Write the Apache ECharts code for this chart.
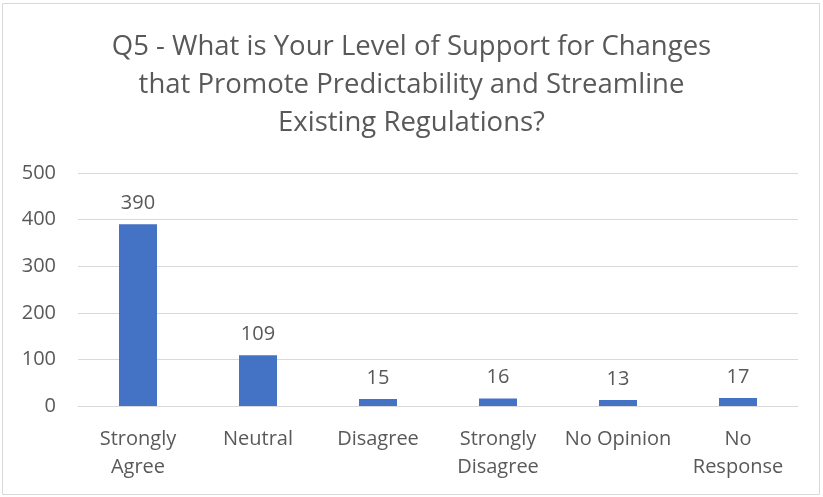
<!DOCTYPE html>
<html>
<head>
<meta charset="utf-8">
<script src="https://cdn.jsdelivr.net/npm/echarts@6/dist/echarts.min.js"></script>
<style>
html,body{margin:0;padding:0;background:#fff;}
#chart{width:823px;height:497px;}
</style>
</head>
<body>
<div id="chart"></div>
<script>
const titleText = "Q5 - What is Your Level of Support for Changes\nthat Promote Predictability and Streamline\nExisting Regulations?";
const categories = ["Strongly\nAgree", "Neutral", "Disagree", "Strongly\nDisagree", "No Opinion", "No\nResponse"];
const responses = [390, 109, 15, 16, 13, 17];
const yTicks = { min: 0, max: 500, interval: 100 };

const FONT = "'Open Sans', sans-serif";
const TXT = "#595959";
const chart = echarts.init(document.getElementById('chart'), null, { renderer: 'canvas' });
chart.setOption({
  backgroundColor: '#ffffff',
  animation: false,
  title: {
    text: titleText,
    left: 'center',
    top: 23.5,
    textStyle: { fontFamily: FONT, fontSize: 27.5, fontWeight: 'normal', color: TXT, lineHeight: 38 }
  },
  graphic: [{
    type: 'rect',
    shape: { x: 2.5, y: 3.5, width: 817, height: 491 },
    style: { fill: 'none', stroke: '#d9d9d9', lineWidth: 1 },
    silent: true
  }],
  grid: { left: 78, right: 25, top: 173, bottom: 91, containLabel: false },
  xAxis: {
    type: 'category',
    data: categories,
    axisLine: { show: true, lineStyle: { color: '#d9d9d9', width: 1 } },
    axisTick: { show: false },
    axisLabel: { fontFamily: FONT, fontSize: 20, color: TXT, lineHeight: 28, margin: 19, interval: 0 }
  },
  yAxis: {
    type: 'value',
    min: yTicks.min, max: yTicks.max, interval: yTicks.interval,
    axisLine: { show: false },
    axisTick: { show: false },
    splitLine: { lineStyle: { color: '#d9d9d9', width: 1 } },
    axisLabel: { fontFamily: FONT, fontSize: 20, color: TXT, margin: 22 }
  },
  series: [{
    type: 'bar',
    data: responses,
    barWidth: 38,
    itemStyle: { color: '#4472C4' },
    label: { show: true, position: 'top', distance: 11, fontFamily: FONT, fontSize: 20, color: TXT }
  }]
});
</script>
</body>
</html>
